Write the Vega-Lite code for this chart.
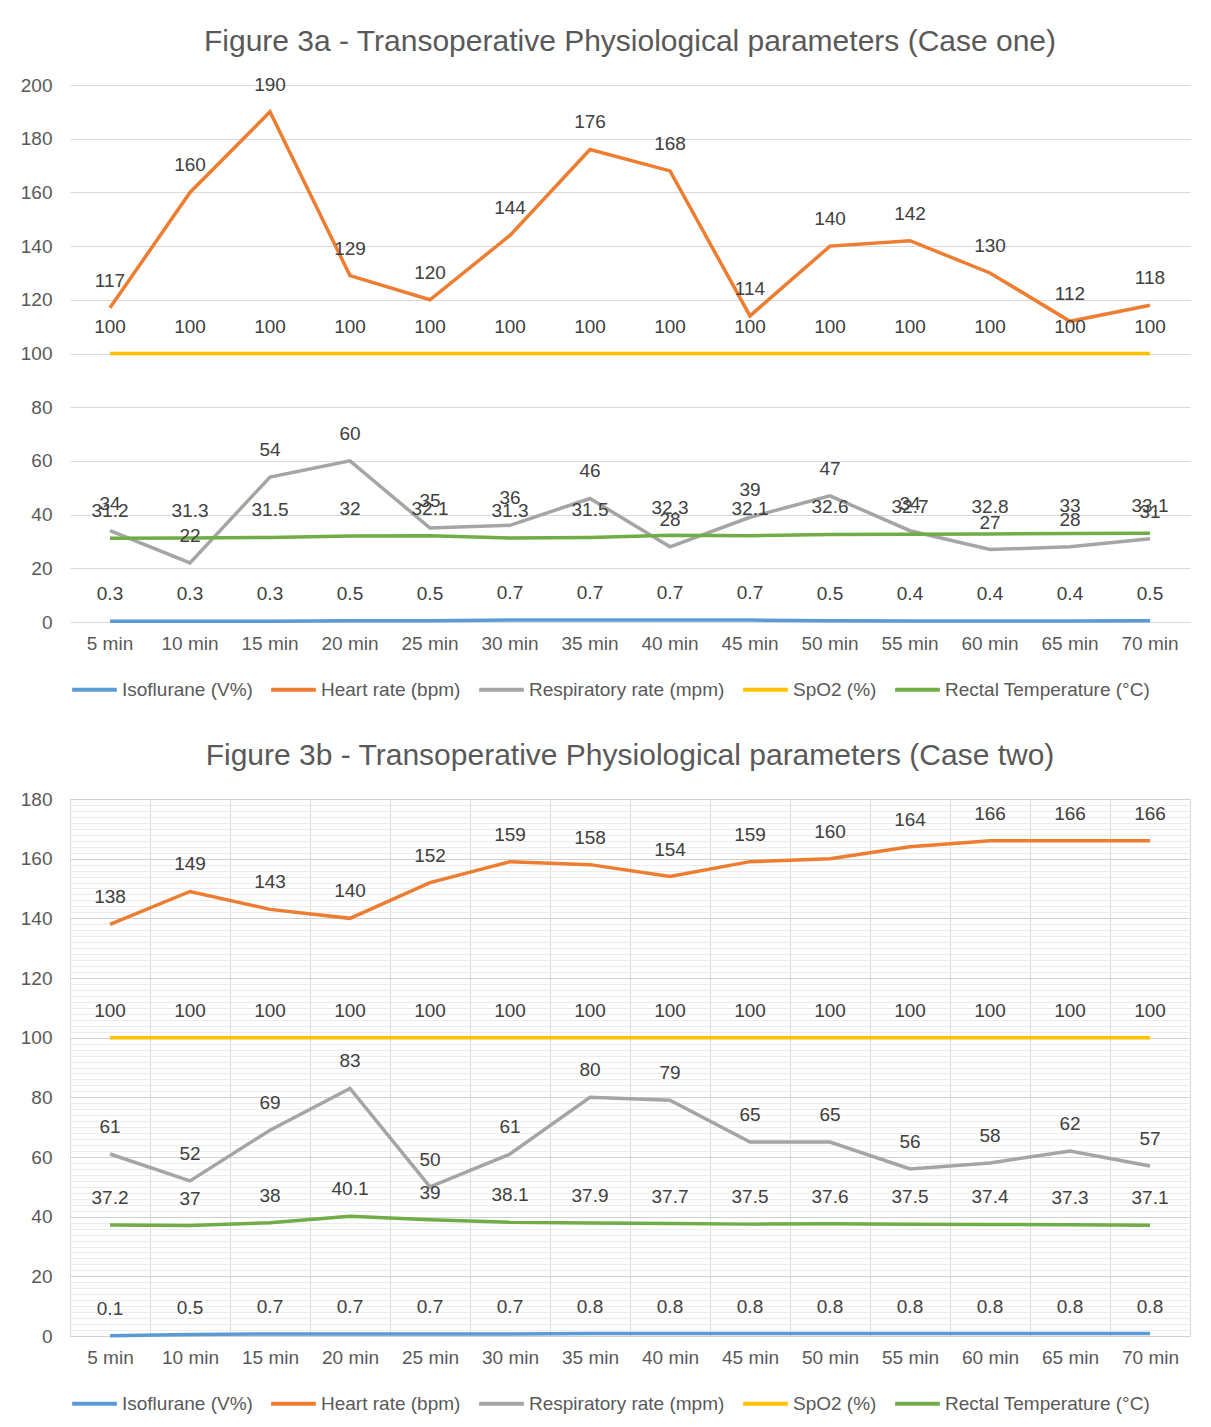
{
  "$schema": "https://vega.github.io/schema/vega-lite/v6.json",
  "background": "white",
  "padding": {"left": 20, "top": 26, "right": 18, "bottom": 4},
  "config": {
    "font": "Liberation Sans",
    "view": {"stroke": null},
    "axis": {"labelFont": "Liberation Sans", "labelFontSize": 19, "labelColor": "#595959", "domain": false, "ticks": false, "title": null},
    "title": {"font": "Liberation Sans", "fontSize": 30, "fontWeight": "normal", "color": "#595959", "anchor": "middle", "offset": 19},
    "legend": {"orient": "bottom", "direction": "horizontal", "title": null, "symbolType": "stroke", "symbolSize": 2000, "symbolStrokeWidth": 4, "labelFont": "Liberation Sans", "labelFontSize": 19, "labelColor": "#595959", "labelLimit": 0, "columnPadding": 10, "labelOffset": 3, "offset": 12},
    "concat": {"spacing": 41}
  },
  "datasets": {
    "a": [
      {"t": "5 min", "s": "Isoflurane (V%)", "v": 0.3}, {"t": "5 min", "s": "Heart rate (bpm)", "v": 117}, {"t": "5 min", "s": "Respiratory rate (mpm)", "v": 34}, {"t": "5 min", "s": "SpO2 (%)", "v": 100}, {"t": "5 min", "s": "Rectal Temperature (°C)", "v": 31.2},
      {"t": "10 min", "s": "Isoflurane (V%)", "v": 0.3}, {"t": "10 min", "s": "Heart rate (bpm)", "v": 160}, {"t": "10 min", "s": "Respiratory rate (mpm)", "v": 22}, {"t": "10 min", "s": "SpO2 (%)", "v": 100}, {"t": "10 min", "s": "Rectal Temperature (°C)", "v": 31.3},
      {"t": "15 min", "s": "Isoflurane (V%)", "v": 0.3}, {"t": "15 min", "s": "Heart rate (bpm)", "v": 190}, {"t": "15 min", "s": "Respiratory rate (mpm)", "v": 54}, {"t": "15 min", "s": "SpO2 (%)", "v": 100}, {"t": "15 min", "s": "Rectal Temperature (°C)", "v": 31.5},
      {"t": "20 min", "s": "Isoflurane (V%)", "v": 0.5}, {"t": "20 min", "s": "Heart rate (bpm)", "v": 129}, {"t": "20 min", "s": "Respiratory rate (mpm)", "v": 60}, {"t": "20 min", "s": "SpO2 (%)", "v": 100}, {"t": "20 min", "s": "Rectal Temperature (°C)", "v": 32},
      {"t": "25 min", "s": "Isoflurane (V%)", "v": 0.5}, {"t": "25 min", "s": "Heart rate (bpm)", "v": 120}, {"t": "25 min", "s": "Respiratory rate (mpm)", "v": 35}, {"t": "25 min", "s": "SpO2 (%)", "v": 100}, {"t": "25 min", "s": "Rectal Temperature (°C)", "v": 32.1},
      {"t": "30 min", "s": "Isoflurane (V%)", "v": 0.7}, {"t": "30 min", "s": "Heart rate (bpm)", "v": 144}, {"t": "30 min", "s": "Respiratory rate (mpm)", "v": 36}, {"t": "30 min", "s": "SpO2 (%)", "v": 100}, {"t": "30 min", "s": "Rectal Temperature (°C)", "v": 31.3},
      {"t": "35 min", "s": "Isoflurane (V%)", "v": 0.7}, {"t": "35 min", "s": "Heart rate (bpm)", "v": 176}, {"t": "35 min", "s": "Respiratory rate (mpm)", "v": 46}, {"t": "35 min", "s": "SpO2 (%)", "v": 100}, {"t": "35 min", "s": "Rectal Temperature (°C)", "v": 31.5},
      {"t": "40 min", "s": "Isoflurane (V%)", "v": 0.7}, {"t": "40 min", "s": "Heart rate (bpm)", "v": 168}, {"t": "40 min", "s": "Respiratory rate (mpm)", "v": 28}, {"t": "40 min", "s": "SpO2 (%)", "v": 100}, {"t": "40 min", "s": "Rectal Temperature (°C)", "v": 32.3},
      {"t": "45 min", "s": "Isoflurane (V%)", "v": 0.7}, {"t": "45 min", "s": "Heart rate (bpm)", "v": 114}, {"t": "45 min", "s": "Respiratory rate (mpm)", "v": 39}, {"t": "45 min", "s": "SpO2 (%)", "v": 100}, {"t": "45 min", "s": "Rectal Temperature (°C)", "v": 32.1},
      {"t": "50 min", "s": "Isoflurane (V%)", "v": 0.5}, {"t": "50 min", "s": "Heart rate (bpm)", "v": 140}, {"t": "50 min", "s": "Respiratory rate (mpm)", "v": 47}, {"t": "50 min", "s": "SpO2 (%)", "v": 100}, {"t": "50 min", "s": "Rectal Temperature (°C)", "v": 32.6},
      {"t": "55 min", "s": "Isoflurane (V%)", "v": 0.4}, {"t": "55 min", "s": "Heart rate (bpm)", "v": 142}, {"t": "55 min", "s": "Respiratory rate (mpm)", "v": 34}, {"t": "55 min", "s": "SpO2 (%)", "v": 100}, {"t": "55 min", "s": "Rectal Temperature (°C)", "v": 32.7},
      {"t": "60 min", "s": "Isoflurane (V%)", "v": 0.4}, {"t": "60 min", "s": "Heart rate (bpm)", "v": 130}, {"t": "60 min", "s": "Respiratory rate (mpm)", "v": 27}, {"t": "60 min", "s": "SpO2 (%)", "v": 100}, {"t": "60 min", "s": "Rectal Temperature (°C)", "v": 32.8},
      {"t": "65 min", "s": "Isoflurane (V%)", "v": 0.4}, {"t": "65 min", "s": "Heart rate (bpm)", "v": 112}, {"t": "65 min", "s": "Respiratory rate (mpm)", "v": 28}, {"t": "65 min", "s": "SpO2 (%)", "v": 100}, {"t": "65 min", "s": "Rectal Temperature (°C)", "v": 33},
      {"t": "70 min", "s": "Isoflurane (V%)", "v": 0.5}, {"t": "70 min", "s": "Heart rate (bpm)", "v": 118}, {"t": "70 min", "s": "Respiratory rate (mpm)", "v": 31}, {"t": "70 min", "s": "SpO2 (%)", "v": 100}, {"t": "70 min", "s": "Rectal Temperature (°C)", "v": 33.1}
    ],
    "b": [
      {"t": "5 min", "s": "Isoflurane (V%)", "v": 0.1}, {"t": "5 min", "s": "Heart rate (bpm)", "v": 138}, {"t": "5 min", "s": "Respiratory rate (mpm)", "v": 61}, {"t": "5 min", "s": "SpO2 (%)", "v": 100}, {"t": "5 min", "s": "Rectal Temperature (°C)", "v": 37.2},
      {"t": "10 min", "s": "Isoflurane (V%)", "v": 0.5}, {"t": "10 min", "s": "Heart rate (bpm)", "v": 149}, {"t": "10 min", "s": "Respiratory rate (mpm)", "v": 52}, {"t": "10 min", "s": "SpO2 (%)", "v": 100}, {"t": "10 min", "s": "Rectal Temperature (°C)", "v": 37},
      {"t": "15 min", "s": "Isoflurane (V%)", "v": 0.7}, {"t": "15 min", "s": "Heart rate (bpm)", "v": 143}, {"t": "15 min", "s": "Respiratory rate (mpm)", "v": 69}, {"t": "15 min", "s": "SpO2 (%)", "v": 100}, {"t": "15 min", "s": "Rectal Temperature (°C)", "v": 38},
      {"t": "20 min", "s": "Isoflurane (V%)", "v": 0.7}, {"t": "20 min", "s": "Heart rate (bpm)", "v": 140}, {"t": "20 min", "s": "Respiratory rate (mpm)", "v": 83}, {"t": "20 min", "s": "SpO2 (%)", "v": 100}, {"t": "20 min", "s": "Rectal Temperature (°C)", "v": 40.1},
      {"t": "25 min", "s": "Isoflurane (V%)", "v": 0.7}, {"t": "25 min", "s": "Heart rate (bpm)", "v": 152}, {"t": "25 min", "s": "Respiratory rate (mpm)", "v": 50}, {"t": "25 min", "s": "SpO2 (%)", "v": 100}, {"t": "25 min", "s": "Rectal Temperature (°C)", "v": 39},
      {"t": "30 min", "s": "Isoflurane (V%)", "v": 0.7}, {"t": "30 min", "s": "Heart rate (bpm)", "v": 159}, {"t": "30 min", "s": "Respiratory rate (mpm)", "v": 61}, {"t": "30 min", "s": "SpO2 (%)", "v": 100}, {"t": "30 min", "s": "Rectal Temperature (°C)", "v": 38.1},
      {"t": "35 min", "s": "Isoflurane (V%)", "v": 0.8}, {"t": "35 min", "s": "Heart rate (bpm)", "v": 158}, {"t": "35 min", "s": "Respiratory rate (mpm)", "v": 80}, {"t": "35 min", "s": "SpO2 (%)", "v": 100}, {"t": "35 min", "s": "Rectal Temperature (°C)", "v": 37.9},
      {"t": "40 min", "s": "Isoflurane (V%)", "v": 0.8}, {"t": "40 min", "s": "Heart rate (bpm)", "v": 154}, {"t": "40 min", "s": "Respiratory rate (mpm)", "v": 79}, {"t": "40 min", "s": "SpO2 (%)", "v": 100}, {"t": "40 min", "s": "Rectal Temperature (°C)", "v": 37.7},
      {"t": "45 min", "s": "Isoflurane (V%)", "v": 0.8}, {"t": "45 min", "s": "Heart rate (bpm)", "v": 159}, {"t": "45 min", "s": "Respiratory rate (mpm)", "v": 65}, {"t": "45 min", "s": "SpO2 (%)", "v": 100}, {"t": "45 min", "s": "Rectal Temperature (°C)", "v": 37.5},
      {"t": "50 min", "s": "Isoflurane (V%)", "v": 0.8}, {"t": "50 min", "s": "Heart rate (bpm)", "v": 160}, {"t": "50 min", "s": "Respiratory rate (mpm)", "v": 65}, {"t": "50 min", "s": "SpO2 (%)", "v": 100}, {"t": "50 min", "s": "Rectal Temperature (°C)", "v": 37.6},
      {"t": "55 min", "s": "Isoflurane (V%)", "v": 0.8}, {"t": "55 min", "s": "Heart rate (bpm)", "v": 164}, {"t": "55 min", "s": "Respiratory rate (mpm)", "v": 56}, {"t": "55 min", "s": "SpO2 (%)", "v": 100}, {"t": "55 min", "s": "Rectal Temperature (°C)", "v": 37.5},
      {"t": "60 min", "s": "Isoflurane (V%)", "v": 0.8}, {"t": "60 min", "s": "Heart rate (bpm)", "v": 166}, {"t": "60 min", "s": "Respiratory rate (mpm)", "v": 58}, {"t": "60 min", "s": "SpO2 (%)", "v": 100}, {"t": "60 min", "s": "Rectal Temperature (°C)", "v": 37.4},
      {"t": "65 min", "s": "Isoflurane (V%)", "v": 0.8}, {"t": "65 min", "s": "Heart rate (bpm)", "v": 166}, {"t": "65 min", "s": "Respiratory rate (mpm)", "v": 62}, {"t": "65 min", "s": "SpO2 (%)", "v": 100}, {"t": "65 min", "s": "Rectal Temperature (°C)", "v": 37.3},
      {"t": "70 min", "s": "Isoflurane (V%)", "v": 0.8}, {"t": "70 min", "s": "Heart rate (bpm)", "v": 166}, {"t": "70 min", "s": "Respiratory rate (mpm)", "v": 57}, {"t": "70 min", "s": "SpO2 (%)", "v": 100}, {"t": "70 min", "s": "Rectal Temperature (°C)", "v": 37.1}
    ]
  },
  "vconcat": [
    {
      "title": {"text": "Figure 3a - Transoperative Physiological parameters (Case one)"},
      "width": 1120,
      "height": 537,
      "data": {"name": "a"},
      "encoding": {
        "x": {"field": "t", "type": "ordinal", "sort": null, "scale": {"type": "band", "paddingInner": 0, "paddingOuter": 0}, "axis": {"labelAngle": 0, "grid": false, "labelPadding": 12}},
        "y": {"field": "v", "type": "quantitative", "scale": {"domain": [0, 200], "nice": false}, "axis": {"values": [0, 20, 40, 60, 80, 100, 120, 140, 160, 180, 200], "gridColor": "#d9d9d9", "gridWidth": 1, "labelPadding": 18}}
      },
      "layer": [
        {
          "mark": {"type": "line", "strokeWidth": 3.5},
          "encoding": {
            "color": {"field": "s", "type": "nominal", "sort": null, "scale": {"domain": ["Isoflurane (V%)", "Heart rate (bpm)", "Respiratory rate (mpm)", "SpO2 (%)", "Rectal Temperature (°C)"], "range": ["#5B9BD5", "#ED7D31", "#A5A5A5", "#FFC000", "#70AD47"]}}
          }
        },
        {
          "mark": {"type": "text", "dy": -27, "fontSize": 19, "color": "#404040", "font": "Liberation Sans", "baseline": "middle"},
          "encoding": {"text": {"field": "v", "type": "nominal"}}
        }
      ]
    },
    {
      "title": {"text": "Figure 3b - Transoperative Physiological parameters (Case two)"},
      "width": 1120,
      "height": 537,
      "data": {"name": "b"},
      "encoding": {
        "x": {"field": "t", "type": "ordinal", "sort": null, "scale": {"type": "band", "paddingInner": 0, "paddingOuter": 0}, "axis": {"labelAngle": 0, "grid": true, "tickBand": "extent", "gridColor": "#d9d9d9", "labelPadding": 12}},
        "y": {"field": "v", "type": "quantitative", "scale": {"domain": [0, 180], "nice": false}, "axis": {"values": [0,2,4,6,8,10,12,14,16,18,20,22,24,26,28,30,32,34,36,38,40,42,44,46,48,50,52,54,56,58,60,62,64,66,68,70,72,74,76,78,80,82,84,86,88,90,92,94,96,98,100,102,104,106,108,110,112,114,116,118,120,122,124,126,128,130,132,134,136,138,140,142,144,146,148,150,152,154,156,158,160,162,164,166,168,170,172,174,176,178,180], "labelOverlap": false, "labelExpr": "datum.value % 20 === 0 ? datum.label : ''", "gridColor": {"condition": {"test": "datum.value % 20 === 0", "value": "#d0d0d0"}, "value": "#ececec"}, "labelPadding": 18}}
      },
      "layer": [
        {
          "mark": {"type": "line", "strokeWidth": 3.5},
          "encoding": {
            "color": {"field": "s", "type": "nominal", "sort": null, "scale": {"domain": ["Isoflurane (V%)", "Heart rate (bpm)", "Respiratory rate (mpm)", "SpO2 (%)", "Rectal Temperature (°C)"], "range": ["#5B9BD5", "#ED7D31", "#A5A5A5", "#FFC000", "#70AD47"]}}
          }
        },
        {
          "mark": {"type": "text", "dy": -27, "fontSize": 19, "color": "#404040", "font": "Liberation Sans", "baseline": "middle"},
          "encoding": {"text": {"field": "v", "type": "nominal"}}
        }
      ]
    }
  ],
  "resolve": {"scale": {"color": "independent", "x": "independent", "y": "independent"}, "legend": {"color": "independent"}}
}
